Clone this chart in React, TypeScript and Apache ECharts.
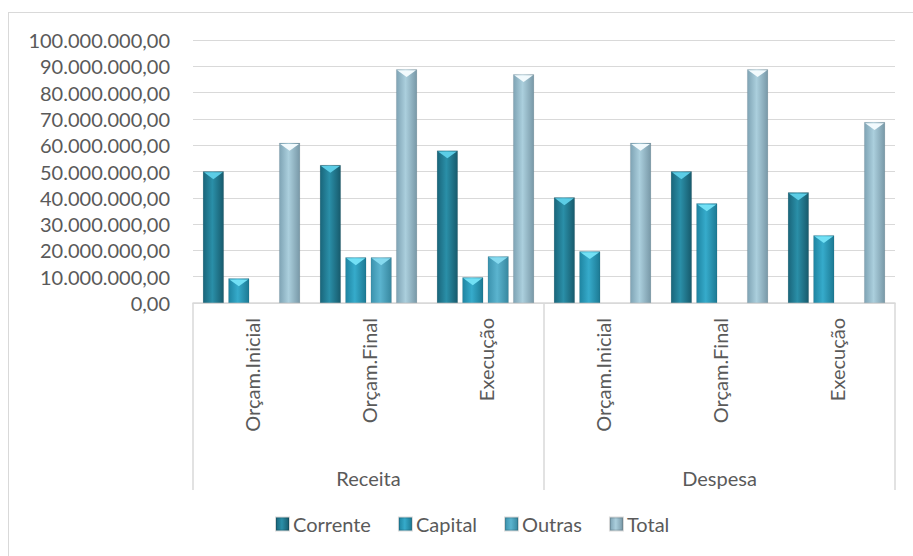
import React, { useEffect, useRef } from "react";
import * as echarts from "echarts";

const categories = ["Orçam.Inicial", "Orçam.Final", "Execução", "Orçam.Inicial", "Orçam.Final", "Execução"];
const groups = ["Receita", "Despesa"];
const seriesNames = ["Corrente", "Capital", "Outras", "Total"];
const corrente = [50100000, 52500000, 58000000, 40200000, 50100000, 42100000];
const capital = [9400000, 17400000, 9800000, 19700000, 37900000, 25800000];
const outras = [null, 17400000, 17800000, null, null, null];
const total = [60900000, 88900000, 87000000, 60900000, 88900000, 68800000];

const FONT = "Lato, 'Open Sans', sans-serif";
const TEXT = "#5a5a5a";
const GRID = "#d9d9d9";

function grad(a: string, b: string, c: string) {
  return new echarts.graphic.LinearGradient(0, 0, 1, 0, [
    { offset: 0, color: a },
    { offset: 0.45, color: b },
    { offset: 1, color: c },
  ]);
}

function fmt(v: number) {
  const s = Math.round(v).toString().replace(/\B(?=(\d{3})+(?!\d))/g, ".");
  return s + ",00";
}

export default function App() {
  const ref = useRef<HTMLDivElement>(null);
  useEffect(() => {
    if (!ref.current) return;
    const chart = echarts.init(ref.current, undefined, { renderer: "svg" });
    const values = [corrente, capital, outras, total];
    const fills = [
      grad("#19657a", "#2a8fa8", "#175a6c"),
      grad("#1e84a1", "#36abcb", "#1c7993"),
      grad("#3b92ad", "#5bb4cf", "#37879f"),
      grad("#7ea3b4", "#abcfdd", "#7898a7"),
    ];
    const tips = ["#5ccde6", "#72e0f5", "#86daef", "#f2fafd"];
    const barW = 21;
    const gap = "21%";
    const bars: any[] = values.map((d, i) => ({
      name: seriesNames[i],
      type: "bar",
      data: d.map((v) => (v == null ? "-" : v)),
      barWidth: barW,
      barGap: gap,
      itemStyle: { color: fills[i], borderColor: "rgba(0,0,0,0.15)", borderWidth: 0.5 },
      z: 2,
    }));
    const tipsSeries: any[] = values.map((d, i) => ({
      name: seriesNames[i],
      type: "pictorialBar",
      data: d.map((v) => (v == null ? "-" : v)),
      symbol: "triangle",
      symbolRotate: 180,
      symbolSize: [barW - 2, 7],
      symbolPosition: "end",
      symbolOffset: [0, 1],
      barWidth: barW,
      barGap: gap,
      itemStyle: { color: tips[i] },
      z: 3,
      legendHoverLink: false,
    }));
    chart.setOption({
      animation: false,
      textStyle: { fontFamily: FONT },
      legend: {
        data: seriesNames,
        top: 509,
        left: 270,
        itemWidth: 13,
        itemHeight: 13,
        itemGap: 27,
        icon: "rect",
        textStyle: { fontFamily: FONT, fontSize: 20, color: TEXT, padding: [0, 0, 0, -1] },
      },
      grid: { left: 193, right: 18, top: 40, bottom: 253, containLabel: false },
      xAxis: [
        {
          type: "category",
          data: categories,
          position: "bottom",
          axisLine: { show: true, lineStyle: { color: GRID, width: 1.5 } },
          axisTick: { show: false },
          axisLabel: {
            rotate: 90,
            margin: 15,
            fontFamily: FONT,
            fontSize: 20,
            color: TEXT,
            interval: 0,
          },
        },
        {
          type: "category",
          data: groups,
          position: "bottom",
          offset: 0,
          axisLine: { show: false },
          axisTick: { show: true, length: 187, lineStyle: { color: GRID, width: 1.5 } },
          axisLabel: { margin: 165, fontFamily: FONT, fontSize: 20, color: TEXT },
          splitLine: { show: false },
        },
      ],
      yAxis: {
        type: "value",
        min: 0,
        max: 100000000,
        interval: 10000000,
        axisLine: { show: false },
        axisTick: { show: false },
        splitLine: { lineStyle: { color: GRID, width: 1 } },
        axisLabel: { formatter: (v: number) => fmt(v), fontFamily: FONT, fontSize: 20, color: TEXT, margin: 23 },
      },
      series: [...bars, ...tipsSeries],
    });
    return () => chart.dispose();
  }, []);
  return (
    <div style={{ position: "fixed", left: 0, top: 0, width: 913, height: 556, background: "#fff" }}>
      <div
        style={{
          position: "absolute",
          left: 8,
          top: 12,
          width: 920,
          height: 560,
          borderLeft: "1.5px solid #d9d9d9",
          borderTop: "1.5px solid #d9d9d9",
          boxSizing: "border-box",
        }}
      />
      <div ref={ref} style={{ position: "absolute", left: 0, top: 0, width: 913, height: 556 }} />
    </div>
  );
}
